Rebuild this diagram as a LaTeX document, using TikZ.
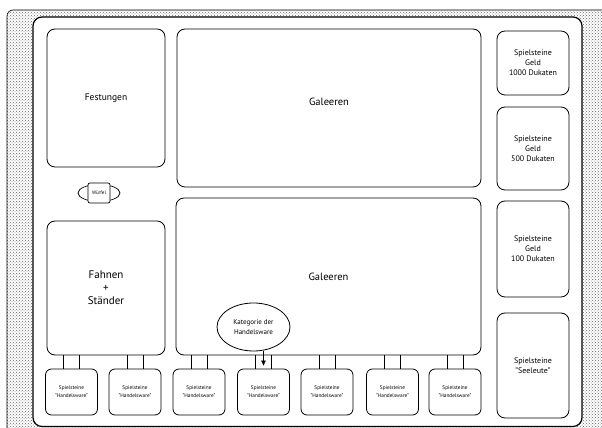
\documentclass[tikz,border=0pt]{standalone}
\usepackage{fontspec}
\setmainfont{PT Sans}
\usetikzlibrary{arrows.meta,positioning,shapes.geometric,patterns}

\tikzset{
  field/.style={rectangle,rounded corners=8pt,draw=black,line width=0.8pt,inner sep=0pt,align=center},
  token/.style={rectangle,rounded corners=6pt,draw=black,line width=0.8pt,inner sep=0pt,
    minimum width=52pt,minimum height=46pt,align=center,font=\fontsize{5.3}{8}\selectfont},
  money/.style={field,minimum width=72pt,font=\fontsize{8}{10}\selectfont},
  link/.style={draw=black,line width=0.7pt}
}

\begin{document}
\begin{tikzpicture}[x=1pt,y=1pt]

  \clip (0,0) rectangle (602,428);
  \draw[rounded corners=6pt,line width=0.6pt,pattern=crosshatch dots,pattern color=black!60] (7,-10) rectangle (620,418);
  \draw[rounded corners=9pt,line width=1.2pt,fill=white] (33,1.5) rectangle (582,411);

  \node (fest)   [field,minimum width=118pt,minimum height=138pt,font=\fontsize{9.5}{11}\selectfont] at (106,330) {Festungen};
  \node (gal1)   [field,minimum width=304pt,minimum height=158pt,
                  label={[yshift=6pt,font=\fontsize{10.5}{13}\selectfont]center:Galeeren}] at (329,320) {};
  \node (gal2)   [field,minimum width=305pt,minimum height=157pt,font=\fontsize{10.5}{13}\selectfont] at (328.5,151.5) {Galeeren};
  \node (fahnen) [field,minimum width=118pt,minimum height=134pt,font=\fontsize{11}{13}\selectfont] at (106,140) {Fahnen\\+\\Ständer};

  \node (geld1)  [money,minimum height=64pt]  at (533,365)   {Spielsteine\\Geld\\1000 Dukaten};
  \node (geld2)  [money,minimum height=83pt]  at (533,279.5) {Spielsteine\\Geld\\500 Dukaten};
  \node (geld3)  [money,minimum height=96pt]  at (533,179)   {Spielsteine\\Geld\\100 Dukaten};
  \node (leute)  [money,minimum height=105pt] at (533,62.5)  {Spielsteine\\"Seeleute"};

  \node (wuerfel) [ellipse,draw=black,line width=0.7pt,minimum width=42pt,minimum height=17pt] at (99,235) {};
  \node (wbox)    [rectangle,rounded corners=2pt,draw=black,line width=0.7pt,fill=white,inner sep=0pt,
                   minimum width=22pt,minimum height=20pt,font=\fontsize{5}{6}\selectfont] at (wuerfel) {Würfel};

  \foreach \x [count=\i] in {71.5,135,199,263.5,327,392.5,455}
    \node (hw\i) [token] at (\x,36) {Spielsteine\\"Handelsware"};

  \foreach \i in {1,...,7} {
    \draw[link] ([xshift=-8pt]hw\i.north) -- ([xshift=-8pt]hw\i.north |- gal2.south);
    \draw[link] ([xshift=8pt]hw\i.north) -- ([xshift=8pt]hw\i.north |- gal2.south);
  }

  \node (kat) [ellipse,draw=black,line width=0.8pt,fill=white,inner sep=0pt,minimum width=73pt,minimum height=48pt,
               align=center,font=\fontsize{7}{10}\selectfont] at (253.5,101) {Kategorie der\\Handelsware};
  \draw[-{Triangle[length=5pt,width=4.5pt]},line width=0.7pt,shorten >=3pt] (hw4.north |- kat.south) -- (hw4.north);

\end{tikzpicture}
\end{document}
